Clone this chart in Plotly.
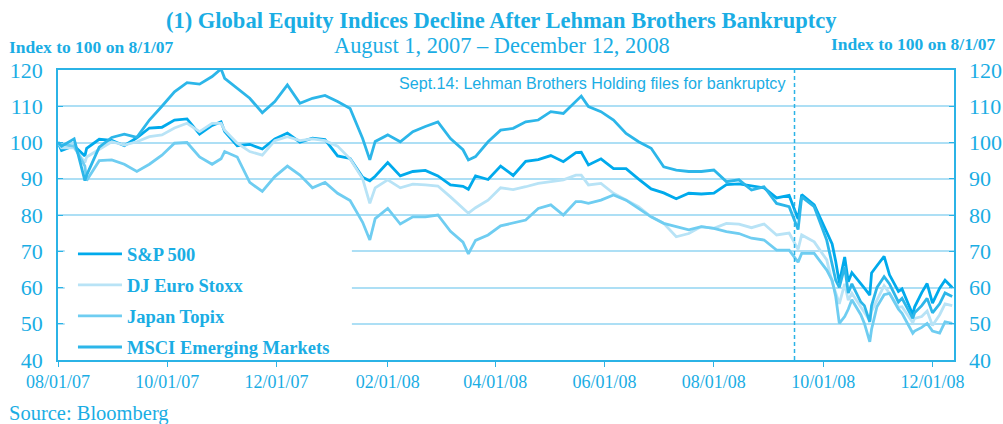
import plotly.graph_objects as go

dates = [
    "2007-08-01", "2007-08-03", "2007-08-10", "2007-08-16", "2007-08-17", "2007-08-24", "2007-08-31",
    "2007-09-07", "2007-09-14", "2007-09-21", "2007-09-28", "2007-10-05", "2007-10-12", "2007-10-19",
    "2007-10-26", "2007-10-31", "2007-11-02", "2007-11-09", "2007-11-16", "2007-11-23", "2007-11-30",
    "2007-12-07", "2007-12-14", "2007-12-21", "2007-12-28", "2008-01-04", "2008-01-11", "2008-01-18",
    "2008-01-22", "2008-01-25", "2008-02-01", "2008-02-08", "2008-02-15", "2008-02-22", "2008-02-29",
    "2008-03-07", "2008-03-14", "2008-03-17", "2008-03-21", "2008-03-28", "2008-04-04", "2008-04-11",
    "2008-04-18", "2008-04-25", "2008-05-02", "2008-05-09", "2008-05-16", "2008-05-19", "2008-05-23",
    "2008-05-30", "2008-06-06", "2008-06-13", "2008-06-20", "2008-06-27", "2008-07-04", "2008-07-11",
    "2008-07-18", "2008-07-25", "2008-08-01", "2008-08-08", "2008-08-15", "2008-08-22", "2008-08-29",
    "2008-09-05", "2008-09-12", "2008-09-17", "2008-09-19", "2008-09-26",
    "2008-10-03", "2008-10-06", "2008-10-08", "2008-10-10", "2008-10-13", "2008-10-15", "2008-10-17",
    "2008-10-22", "2008-10-24", "2008-10-27", "2008-10-28", "2008-10-31", "2008-11-04", "2008-11-07",
    "2008-11-12", "2008-11-14", "2008-11-20", "2008-11-21", "2008-11-25", "2008-11-28", "2008-12-01",
    "2008-12-05", "2008-12-08", "2008-12-12",
]

sp500 = [
    100.0, 97.8, 99.1, 96.3, 98.4, 100.9, 100.6,
    99.1, 101.3, 104.0, 104.2, 106.2, 106.5, 102.3,
    104.7, 105.7, 103.0, 99.1, 99.5, 98.2, 101.0,
    102.6, 100.1, 101.2, 100.8, 96.3, 95.6, 90.4,
    89.4, 90.7, 94.5, 90.8, 92.0, 92.3, 90.8,
    88.3, 87.9, 87.1, 90.8, 89.8, 93.5, 90.9,
    94.8, 95.3, 96.4, 94.7, 97.2, 97.3, 93.8,
    95.5, 92.8, 92.8, 89.9, 87.2, 86.1, 84.5,
    86.0, 85.8, 86.0, 88.4, 88.6, 88.1, 87.5,
    84.7, 85.4, 78.9, 85.6, 82.8,
    75.0, 72.0, 67.2, 61.3, 68.4, 61.6, 64.1,
    61.2, 59.8, 57.9, 64.0, 66.0, 68.6, 63.5,
    58.9, 59.6, 52.5, 54.6, 58.6, 61.1, 55.7,
    59.8, 62.0, 60.0,
]

euro_stoxx = [
    100.0, 98.5, 98.5, 94.5, 96.0, 98.0, 100.2,
    99.3, 100.2, 101.6, 102.1, 104.0, 105.3, 103.0,
    105.3, 105.3, 103.4, 99.8, 97.5, 96.5, 100.5,
    101.6, 100.5, 101.0, 100.5, 99.0, 95.5, 90.0,
    83.2, 87.5, 89.7, 87.5, 88.5, 88.3, 88.0,
    85.0, 82.0, 80.5, 82.0, 84.1, 87.5, 87.0,
    87.8, 88.7, 89.2, 89.7, 91.0, 91.0, 88.3,
    88.7, 86.0, 84.1, 82.3, 79.5, 77.7, 74.0,
    74.9, 76.8, 76.3, 77.7, 77.5, 76.5, 77.5,
    74.5, 75.0, 70.5, 74.5, 72.6,
    67.6, 61.5, 58.5, 55.5, 61.0, 56.5, 58.4,
    54.5, 52.9, 50.8, 53.5, 56.6, 60.5, 58.4,
    54.5, 54.7, 50.3, 51.5, 52.0, 53.5, 49.5,
    52.5, 55.5, 55.0,
]

topix = [
    100.0, 99.5, 99.0, 93.5, 89.5, 95.0, 95.2,
    94.0, 92.0, 94.0, 96.5, 99.8, 100.0, 96.0,
    94.0, 95.5, 97.5, 96.0, 89.0, 86.5, 90.6,
    93.5, 91.0, 87.5, 89.0, 86.0, 84.0, 78.0,
    73.1, 79.0, 81.8, 77.5, 79.5, 79.5, 80.0,
    75.5, 72.5, 69.3, 73.0, 74.5, 77.0, 77.7,
    78.6, 81.8, 82.8, 80.0, 83.7, 83.7, 83.2,
    84.1, 85.5, 84.1, 81.8, 79.5, 77.7, 76.8,
    75.9, 76.8, 76.3, 75.4, 74.9, 73.6, 73.1,
    70.3, 70.3, 67.0, 69.4, 69.4,
    64.8, 62.0, 57.5, 50.1, 52.0, 54.0, 56.6,
    52.5, 50.1, 45.0, 48.5, 54.7, 58.0, 58.4,
    54.0, 52.9, 47.4, 48.0, 49.0, 50.1, 48.0,
    47.4, 50.5, 50.1,
]

msci_em = [
    100.0, 99.0, 101.0, 89.5, 91.0, 98.7, 101.4,
    102.3, 101.4, 106.2, 110.0, 114.0, 116.5, 116.1,
    118.2, 120.3, 117.7, 115.0, 112.2, 108.2, 111.3,
    115.9, 110.8, 112.2, 113.0, 111.3, 109.4, 101.1,
    95.2, 100.3, 102.1, 100.2, 103.0, 104.4, 105.7,
    101.1, 98.0, 95.2, 96.1, 100.2, 103.4, 103.9,
    105.7, 106.2, 108.5, 108.0, 111.3, 112.8, 109.9,
    108.5, 106.2, 102.5, 100.2, 98.4, 93.3, 92.4,
    92.0, 92.0, 92.4, 89.2, 89.7, 86.9, 87.8,
    83.2, 82.3, 76.0, 85.0, 82.3,
    73.0, 66.5, 62.0, 60.0, 65.7, 58.5, 61.0,
    56.0, 55.0, 50.5, 55.0, 60.0, 63.0, 61.0,
    56.0, 57.0, 51.5, 53.0, 55.0, 57.0, 53.0,
    55.5, 58.5, 57.5,
]

tick_dates = ["2007-08-01", "2007-10-01", "2007-12-01", "2008-02-01", "2008-04-01",
              "2008-06-01", "2008-08-01", "2008-10-01", "2008-12-01"]
tick_text = ["08/01/07", "10/01/07", "12/01/07", "02/01/08", "04/01/08",
             "06/01/08", "08/01/08", "10/01/08", "12/01/08"]
x_range = ["2007-08-01", "2008-12-13"]
y_range = [40, 120]
lehman_date = "2008-09-15"

TXT = "#1AADE4"
AXIS = "#2BB3E6"
GRID = "#ADDFF5"
SERIF = "Liberation Serif"

series = [
    ("S&P 500", sp500, "#00AAEC"),
    ("DJ Euro Stoxx", euro_stoxx, "#B8E3F6"),
    ("Japan Topix", topix, "#6FCDF1"),
    ("MSCI Emerging Markets", msci_em, "#2CB6E9"),
]

fig = go.Figure()
for name, vals, color in series:
    fig.add_trace(go.Scatter(x=dates, y=vals, mode="lines", name=name, legendgroup=name,
                             line=dict(color=color, width=2.8), hoverinfo="skip"))

# invisible trace to activate right axis
fig.add_trace(go.Scatter(x=dates, y=sp500, yaxis="y2", mode="lines", line=dict(width=0),
                         opacity=0, showlegend=False, hoverinfo="skip"))

fig.update_layout(
    width=1003, height=424,
    margin=dict(l=58, r=49, t=70, b=64, autoexpand=False),
    paper_bgcolor="white", plot_bgcolor="white",
    showlegend=True,
    legend=dict(x=0.0167, y=0.43, xanchor="left", yanchor="top", bgcolor="rgba(0,0,0,0)",
                font=dict(family=SERIF, size=18.5, color=TXT, weight="bold"),
                tracegroupgap=4, traceorder="grouped", itemwidth=44),
    xaxis=dict(type="date", range=x_range, tickvals=tick_dates, ticktext=tick_text,
               ticks="outside", ticklen=5, tickcolor=AXIS, tickwidth=1.2, automargin=False,
               showline=True, linecolor=AXIS, linewidth=1.5, mirror=True, showgrid=False,
               tickfont=dict(family=SERIF, size=18, color=TXT)),
    yaxis=dict(range=y_range, tick0=40, dtick=10, ticks="inside", ticklen=5, tickcolor=AXIS,
               tickwidth=1.2, showline=True, linecolor=AXIS, linewidth=1.5, mirror=True,
               showgrid=True, gridcolor=GRID, gridwidth=1.5, zeroline=False, automargin=False,
               ticklabelstandoff=9,
               tickfont=dict(family=SERIF, size=22, color=TXT)),
    yaxis2=dict(range=y_range, tick0=40, dtick=10, overlaying="y", side="right", ticks="inside",
                ticklen=5, tickcolor=AXIS, tickwidth=1.2, showgrid=False, zeroline=False,
                showline=False, ticklabelstandoff=14, automargin=False,
                tickfont=dict(family=SERIF, size=22, color=TXT)),
    shapes=[
        dict(type="rect", xref="paper", yref="paper", x0=0.0075, x1=0.328, y0=0.004, y1=0.44,
             fillcolor="white", line=dict(width=0), layer="above"),
        dict(type="line", xref="x", yref="paper", x0=lehman_date, x1=lehman_date, y0=0, y1=1,
             line=dict(color=AXIS, width=1.5, dash="4px,3px")),
    ],
    annotations=[
        dict(text="<b>(1) Global Equity Indices Decline After Lehman Brothers Bankruptcy</b>",
             xref="paper", yref="paper", x=0.4955, y=1.1724, xanchor="center", yanchor="middle",
             showarrow=False, font=dict(family=SERIF, size=22.5, color=TXT)),
        dict(text="August 1, 2007 \u2013 December 12, 2008",
             xref="paper", yref="paper", x=0.4955, y=1.0828, xanchor="center", yanchor="middle",
             showarrow=False, font=dict(family=SERIF, size=22.4, color=TXT)),
        dict(text="<b>Index to 100 on 8/1/07</b>", xref="paper", yref="paper", x=0.0379, y=1.0793,
             xanchor="center", yanchor="middle", showarrow=False,
             font=dict(family=SERIF, size=17.5, color=TXT)),
        dict(text="<b>Index to 100 on 8/1/07</b>", xref="paper", yref="paper", x=0.9548, y=1.0897,
             xanchor="center", yanchor="middle", showarrow=False,
             font=dict(family=SERIF, size=17.5, color=TXT)),
        dict(text="Sept.14: Lehman Brothers Holding files for bankruptcy", xref="paper", yref="paper",
             x=0.596, y=0.955, xanchor="center", yanchor="middle", showarrow=False,
             font=dict(family="Liberation Sans", size=16.1, color=TXT)),
        dict(text="Source: Bloomberg", xref="paper", yref="paper", x=0.0346, y=-0.1828,
             xanchor="center", yanchor="middle", showarrow=False,
             font=dict(family=SERIF, size=20.5, color=TXT)),
    ],
)

fig.write_html("out.html", config={"displayModeBar": False},
               post_script="document.body.style.margin='0';document.body.style.padding='0';")
